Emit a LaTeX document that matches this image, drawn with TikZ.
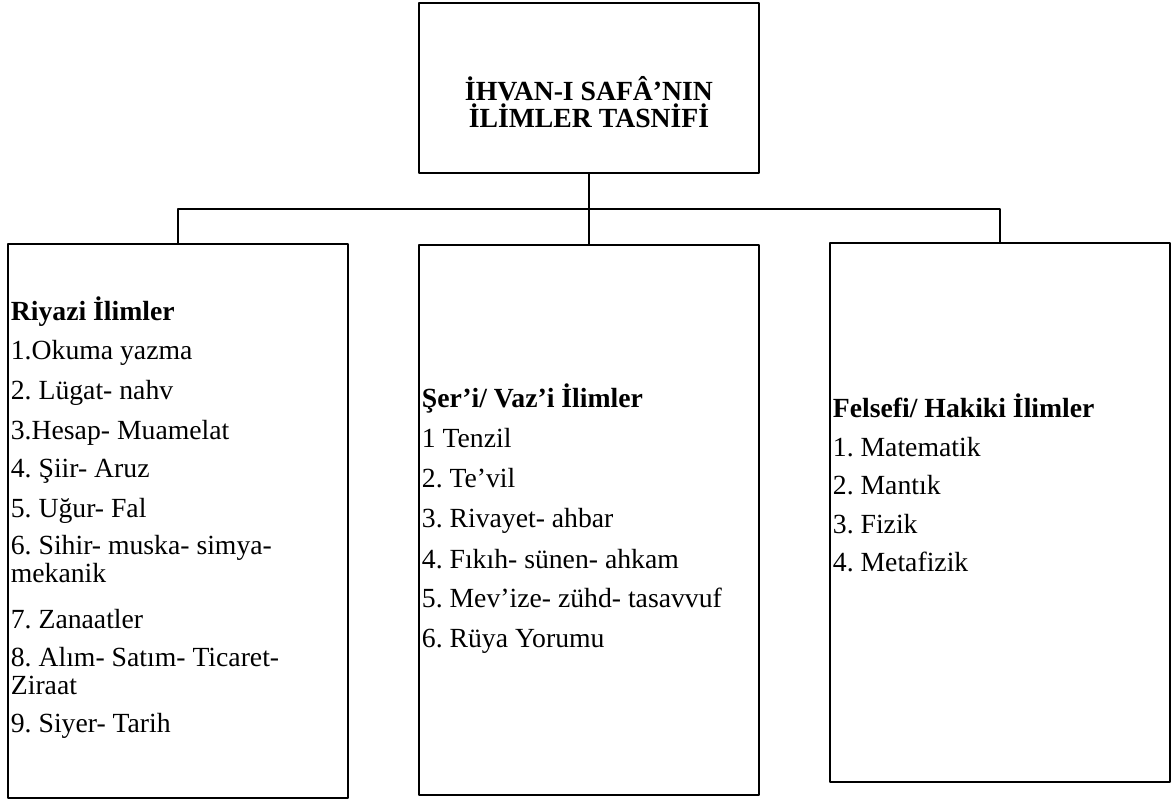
\documentclass[tikz,border=0pt]{standalone}
\usepackage{fontspec}
\setmainfont{Liberation Serif}
\frenchspacing
\tikzset{
	kutu/.style={draw,rectangle,inner sep=0pt,outer sep=0pt,anchor=north west,minimum width=340pt},
	satir/.style={anchor=base west,inner sep=0pt},
}
\begin{document}
\begin{tikzpicture}[x=1pt,y=-1pt,line join=round,line width=1.8pt,font=\fontsize{27.7}{30}\selectfont]
	\useasboundingbox (0,0) rectangle (1171,800);
	% kutular
	\node[kutu,minimum height=170pt] (baslik) at (419,3) {};
	\node[kutu,minimum height=554pt] (riyazi) at (8,244) {};
	\node[kutu,minimum height=550pt] (seri) at (419,245) {};
	\node[kutu,minimum height=539pt] (felsefi) at (830,243) {};
	\coordinate (hat) at (589,209);
	\draw (baslik.south) -- (seri.north);
	\draw (riyazi.north) |- (hat) -| (felsefi.north);
	% metinler
	\foreach \y/\metin [count=\i] in {101/{İHVAN-I SAFÂ’NIN},128/{İLİMLER TASNİFİ}}
	\node[anchor=base,inner sep=0pt] (b\i) at (589,\y) {\textbf{\metin}};
	\foreach \y/\metin [count=\i] in {320/{\textbf{Riyazi İlimler}},359/{1.Okuma yazma},399/{2. Lügat- nahv},
		439/{3.Hesap- Muamelat},477/{4. Şiir- Aruz},517/{5. Uğur- Fal},554/{6. Sihir- muska- simya-},
		582/{mekanik},628/{7. Zanaatler},666/{8. Alım- Satım- Ticaret-},694/{Ziraat},732/{9. Siyer- Tarih}}
	\node[satir] (r\i) at (10,\y) {\metin};
	\foreach \y/\metin [count=\i] in {407/{\textbf{Şer’i/ Vaz’i İlimler}},447/{1 Tenzil},487/{2. Te’vil},
		527/{3. Rivayet- ahbar},568/{4. Fıkıh- sünen- ahkam},607/{5. Mev’ize- zühd- tasavvuf},647/{6. Rüya Yorumu}}
	\node[satir] (s\i) at (421,\y) {\metin};
	\foreach \y/\metin [count=\i] in {417/{\textbf{Felsefi/ Hakiki İlimler}},456/{1. Matematik},494/{2. Mantık},
		533/{3. Fizik},571/{4. Metafizik}}
	\node[satir] (f\i) at (832,\y) {\metin};
\end{tikzpicture}
\end{document}
